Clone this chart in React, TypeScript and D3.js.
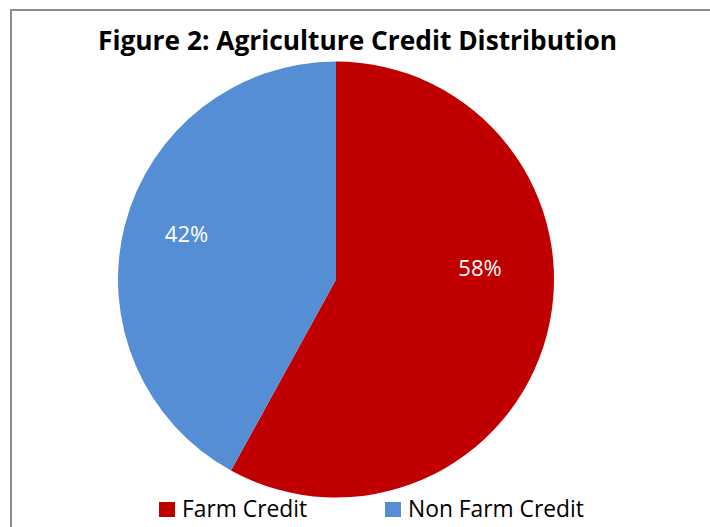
import React from "react";
import * as d3 from "d3";

const categories = ["Farm Credit", "Non Farm Credit"];
const values = [58, 42];
const labels = ["58%", "42%"];
const colors = ["#C00000", "#558ED5"];
const title = "Figure 2: Agriculture Credit Distribution";

export default function App() {
  const W = 710, H = 527;
  const cx = 336, cy = 279.5, r = 218;
  const pie = d3.pie<number>().sort(null).value((d) => d)(values);
  const arc = d3.arc<d3.PieArcDatum<number>>().innerRadius(0).outerRadius(r);
  const labelPos = [
    [480 - cx, 276 - cy],
    [186.5 - cx, 242 - cy],
  ];
  const font = "'Open Sans', 'Noto Sans', sans-serif";
  const legendX = [159, 385];
  return (
    <svg width={W} height={H} style={{ position: "absolute", left: 0, top: 0, background: "#fff" }}>
      <rect x={0} y={0} width={W} height={H} fill="#fff" />
      <rect x={11} y={10} width={W + 20} height={H + 20} fill="none" stroke="#8c8c8c" strokeWidth={2} />
      <text x={357.5} y={50} textAnchor="middle" fontFamily={font} fontWeight="bold" fontSize={26} fill="#000" textLength={519} lengthAdjust="spacingAndGlyphs">
        {title}
      </text>
      <g transform={`translate(${cx},${cy})`}>
        {pie.map((p, i) => (
          <path key={i} d={arc(p) || ""} fill={colors[i]} />
        ))}
        {pie.map((p, i) => (
          <text key={"l" + i} x={labelPos[i][0]} y={labelPos[i][1]} textAnchor="middle" fontFamily={font} fontSize={22} fill="#fff">
            {labels[i]}
          </text>
        ))}
      </g>
      {categories.map((c, i) => (
        <g key={c}>
          <rect x={legendX[i]} y={502} width={16} height={15} fill={colors[i]} />
          <text x={legendX[i] + 23} y={517} fontFamily={font} fontSize={22.8} fill="#000">
            {c}
          </text>
        </g>
      ))}
    </svg>
  );
}
